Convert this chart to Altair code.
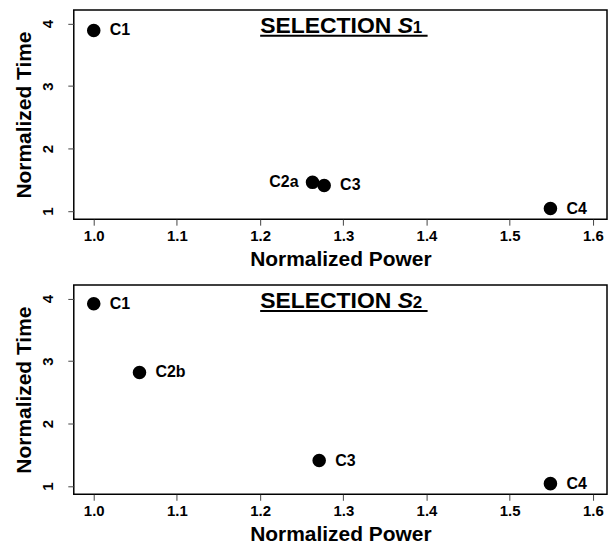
import altair as alt
import pandas as pd

# ---- data ----
top_labels = ["C1", "C2a", "C3", "C4"]
top_power = [1.0, 1.263, 1.277, 1.549]
top_time = [3.89, 1.46, 1.41, 1.04]

bot_labels = ["C1", "C2b", "C3", "C4"]
bot_power = [1.0, 1.055, 1.271, 1.549]
bot_time = [3.92, 2.82, 1.41, 1.04]

left_side_labels = ["C2a"]
x_ticks = [1.0, 1.1, 1.2, 1.3, 1.4, 1.5, 1.6]
y_ticks = [1, 2, 3, 4]
panel_titles = ["SELECTION", "SELECTION"]
panel_subs = ["1", "2"]

FONT = "Liberation Sans"


def panel(labels, power, time, title, sub, width, height, xdom, ytitle_pad):
    df = pd.DataFrame({"label": labels, "power": power, "time": time})
    base = alt.Chart(df)
    x = alt.X(
        "power:Q",
        scale=alt.Scale(domain=xdom, nice=False, zero=False),
        axis=alt.Axis(values=x_ticks, format=".1f", title="Normalized Power",
                      labelPadding=3, titlePadding=5),
    )
    y = alt.Y(
        "time:Q",
        scale=alt.Scale(domain=[0.87, 4.22], nice=False, zero=False),
        axis=alt.Axis(values=y_ticks, format="d", title="Normalized Time",
                      labelAngle=270, labelAlign="center", labelBaseline="middle",
                      labelPadding=20, titlePadding=ytitle_pad),
    )
    pts = base.mark_circle(size=185, color="black", opacity=1).encode(x=x, y=y)
    lab_r = base.transform_filter(
        ~alt.FieldOneOfPredicate(field="label", oneOf=left_side_labels)
    ).mark_text(align="left", baseline="middle", dx=16, fontSize=16,
                fontWeight="bold", font=FONT, color="black").encode(
        x="power:Q", y="time:Q", text="label:N")
    lab_l = base.transform_filter(
        alt.FieldOneOfPredicate(field="label", oneOf=left_side_labels)
    ).mark_text(align="right", baseline="middle", dx=-14, fontSize=16,
                fontWeight="bold", font=FONT, color="black").encode(
        x="power:Q", y="time:Q", text="label:N")

    one = pd.DataFrame({"t": [title], "s": ["S"], "n": [sub]})
    tb = alt.Chart(one)
    t1 = tb.mark_text(align="left", baseline="alphabetic", fontSize=23,
                      fontWeight="bold", font=FONT, color="black").encode(
        x=alt.value(187), y=alt.value(23), text="t:N")
    t2 = tb.mark_text(align="left", baseline="alphabetic", fontSize=23,
                      fontWeight="bold", fontStyle="italic", font=FONT,
                      color="black").encode(
        x=alt.value(325), y=alt.value(23), text="s:N")
    t3 = tb.mark_text(align="left", baseline="alphabetic", fontSize=17,
                      fontWeight="bold", font=FONT, color="black").encode(
        x=alt.value(340), y=alt.value(23), text="n:N")
    ul = tb.mark_rule(color="black", strokeWidth=2).encode(
        x=alt.value(187), x2=alt.value(355), y=alt.value(26))

    return alt.layer(pts, lab_r, lab_l, t1, t2, t3, ul).properties(
        width=width, height=height)


top = panel(top_labels, top_power, top_time, panel_titles[0], panel_subs[0],
            535, 210, [0.976, 1.617], 6)
bot = panel(bot_labels, bot_power, bot_time, panel_titles[1], panel_subs[1],
            535, 210, [0.976, 1.617], 6)

chart = alt.vconcat(top, bot, spacing=14).properties(
    padding={"left": 5, "top": 0, "right": 0, "bottom": 0}
).configure_axis(
    labelFont=FONT, labelFontWeight="bold", labelFontSize=15, labelColor="black",
    titleFont=FONT, titleFontWeight="bold", titleFontSize=21, titleColor="black",
    tickColor="#444", tickSize=6, tickWidth=1, domain=False, grid=False,
).configure_view(stroke="black", strokeWidth=1.5)

chart.save("out.html", embed_options={"renderer": "svg", "actions": False})
